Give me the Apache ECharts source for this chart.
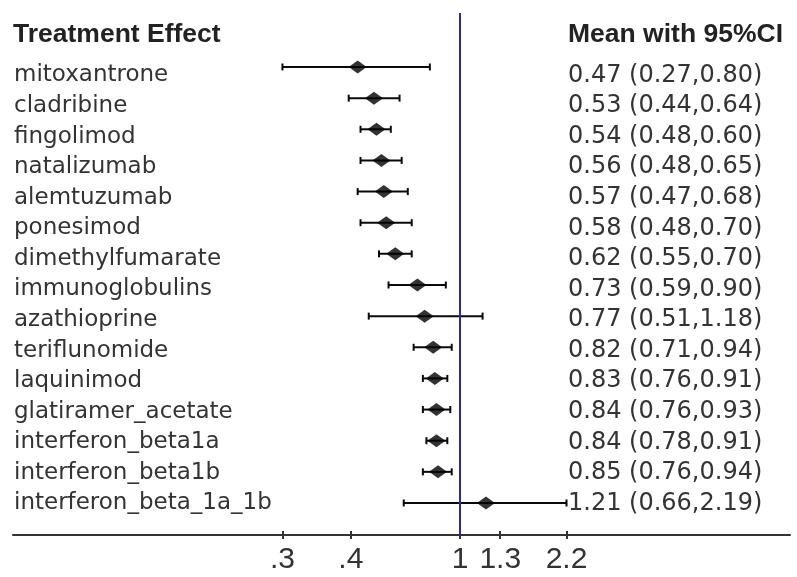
<!DOCTYPE html>
<html>
<head>
<meta charset="utf-8">
<script src="https://cdn.jsdelivr.net/npm/echarts@6/dist/echarts.min.js"></script>
<style>html,body{margin:0;padding:0;background:#fff}#c{width:797px;height:577px}</style>
</head>
<body>
<div id="c"></div>
<script>
const categories = ['mitoxantrone','cladribine','fingolimod','natalizumab','alemtuzumab','ponesimod','dimethylfumarate','immunoglobulins','azathioprine','teriflunomide','laquinimod','glatiramer_acetate','interferon_beta1a','interferon_beta1b','interferon_beta_1a_1b'];
const means = [0.47,0.53,0.54,0.56,0.57,0.58,0.62,0.73,0.77,0.82,0.83,0.84,0.84,0.85,1.21];
const lower = [0.27,0.44,0.48,0.48,0.47,0.48,0.55,0.59,0.51,0.71,0.76,0.76,0.78,0.76,0.66];
const upper = [0.80,0.64,0.60,0.65,0.68,0.70,0.70,0.90,1.18,0.94,0.91,0.93,0.91,0.94,2.19];
const tickValues = [0.27, 0.447, 1, 1.344, 2.19];
const tickLabels = ['.3', '.4', '1', '1.3', '2.2'];
const refValue = 1;
const leftHeader = 'Treatment Effect';
const rightHeader = 'Mean with 95%CI';

const rows = categories.map((_, i) => i);
const ciText = means.map((m, i) => m.toFixed(2) + ' (' + lower[i].toFixed(2) + ',' + upper[i].toFixed(2) + ')');
const lnTicks = tickValues.map(v => Math.log(v));

const textFont = 'DejaVu Sans';
const headFont = 'Liberation Sans, Arial, sans-serif';

function renderCI(params, api) {
  const y = api.value(2);
  const p1 = api.coord([api.value(0), y]);
  const p2 = api.coord([api.value(1), y]);
  const h = 3.5;
  const style = { stroke: '#0a0a0a', lineWidth: 2 };
  return { type: 'group', children: [
    { type: 'line', shape: { x1: p1[0], y1: p1[1], x2: p2[0], y2: p2[1] }, style: style },
    { type: 'line', shape: { x1: p1[0], y1: p1[1] - h, x2: p1[0], y2: p1[1] + h }, style: style },
    { type: 'line', shape: { x1: p2[0], y1: p2[1] - h, x2: p2[0], y2: p2[1] + h }, style: style }
  ]};
}

const chart = echarts.init(document.getElementById('c'), null, { renderer: 'canvas' });
const textAxisRange = { min: -2.044, max: 15.03 };
chart.setOption({
  animation: false,
  backgroundColor: '#fff',
  title: [
    { text: leftHeader, left: 13, top: 21, padding: 0, textStyle: { fontFamily: headFont, fontWeight: 'bold', fontSize: 26.5, color: '#222' } },
    { text: rightHeader, left: 568, top: 21, padding: 0, textStyle: { fontFamily: headFont, fontWeight: 'bold', fontSize: 26.5, color: '#222' } }
  ],
  grid: { left: 13, right: 7, top: 13, bottom: 42, containLabel: false, outerBoundsMode: 'none' },
  xAxis: [
    {
      type: 'value', position: 'bottom', min: -3.295, max: 2.431,
      axisLine: { show: true, onZero: false, lineStyle: { color: '#333', width: 2 } },
      axisTick: { show: true, customValues: lnTicks, length: 4, lineStyle: { color: '#333', width: 2 } },
      axisLabel: { customValues: lnTicks, margin: 10, fontFamily: headFont, fontSize: 30, color: '#333',
        formatter: v => { const i = lnTicks.findIndex(t => Math.abs(t - v) < 1e-6); return i >= 0 ? tickLabels[i] : ''; } },
      splitLine: { show: false }
    },
    {
      type: 'value', position: 'bottom', min: -3.295, max: 2.431,
      axisLine: { show: false, onZero: false },
      axisTick: { show: true, inside: true, customValues: lnTicks, length: 4, lineStyle: { color: '#333', width: 2 } },
      axisLabel: { show: false },
      splitLine: { show: false }
    }
  ],
  yAxis: [
    {
      type: 'value', position: 'left', inverse: true, min: textAxisRange.min, max: textAxisRange.max,
      axisLine: { show: false, onZero: false }, axisTick: { show: false }, splitLine: { show: false },
      axisLabel: { customValues: rows, inside: true, margin: 1, fontFamily: textFont, fontSize: 23, color: '#333',
        formatter: v => categories[Math.round(v)] }
    },
    {
      type: 'value', position: 'right', offset: -223, inverse: true, min: textAxisRange.min, max: textAxisRange.max,
      axisLine: { show: false, onZero: false }, axisTick: { show: false }, splitLine: { show: false },
      axisLabel: { customValues: rows, margin: 1, fontFamily: textFont, fontSize: 24, color: '#333',
        formatter: v => ciText[Math.round(v)] }
    },
    {
      type: 'value', show: false, inverse: true, min: -1.734, max: 15.028, splitLine: { show: false },
      axisLine: { onZero: false }
    }
  ],
  series: [
    {
      type: 'custom', name: 'CI', xAxisIndex: 0, yAxisIndex: 2,
      renderItem: renderCI,
      encode: { x: [0, 1], y: 2 },
      data: rows.map(i => [Math.log(lower[i]), Math.log(upper[i]), i]),
      z: 3, silent: true
    },
    {
      type: 'scatter', name: 'Mean', xAxisIndex: 0, yAxisIndex: 2,
      symbol: 'diamond', symbolSize: [18, 13],
      itemStyle: { color: '#000' },
      data: rows.map(i => [Math.log(means[i]), i]),
      z: 4, silent: true,
      markLine: {
        silent: true, symbol: 'none', label: { show: false },
        lineStyle: { color: '#2b2ba0', width: 2, type: 'solid' },
        data: [{ xAxis: Math.log(refValue) }]
      }
    }
  ]
});
</script>
</body>
</html>
